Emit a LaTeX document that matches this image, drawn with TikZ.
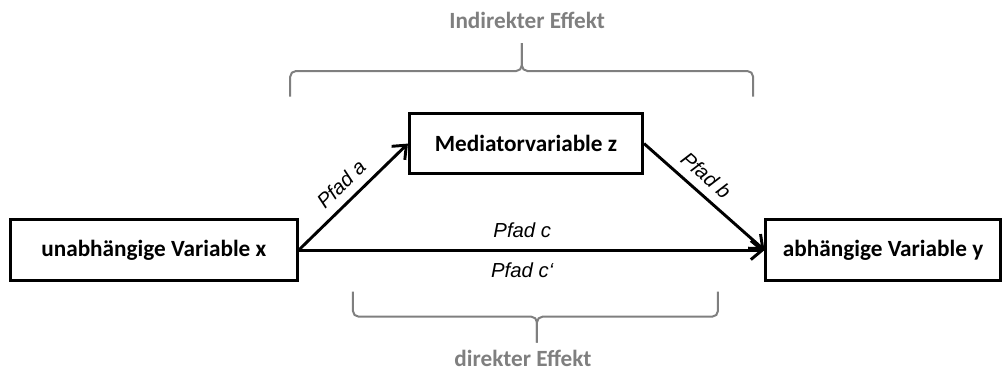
\documentclass[tikz,border=0pt]{standalone}
\usepackage{fontspec}
\setmainfont{Carlito}
\newfontfamily\arialfont{Liberation Sans}
\usetikzlibrary{arrows.meta}
\definecolor{effgray}{RGB}{127,127,127}
\tikzstyle{block} = [draw, line width=2.2pt, fill=white, rectangle, minimum height=1.6cm, align=center, font={\fontsize{17.5pt}{21pt}\selectfont\bfseries}]
\tikzstyle{pfad} = [inner sep=6.5pt, font={\arialfont\itshape\fontsize{15.3pt}{18pt}\selectfont}]
\tikzstyle{effbrace} = [draw=effgray, line width=1.5pt, rounded corners=0.15cm]
\tikzstyle{efftext} = [text=effgray, inner sep=1pt, font={\fontsize{17.5pt}{21pt}\selectfont\bfseries}]

\begin{document}
\begin{tikzpicture}[auto, >={Straight Barb[length=3mm, width=5mm]}]
    \useasboundingbox (-4.07,-3.23) rectangle (22.50,6.62);
    \node [block, minimum width=7.59cm] (uv) at (0,0) {unabhängige Variable x};
    \node [block, minimum width=6.2cm, right of=uv, node distance=19.3cm] (av) {abhängige Variable y};
    \node [block, minimum width=6.17cm] (med) at (9.85,2.82) {Mediatorvariable z};
    \draw [->, line width=2.2pt] (uv.east) -- node[pfad, sloped, above] {Pfad a} (med.west);
    \draw [->, line width=2.2pt] (med.east) -- node[pfad, sloped, above, pos=0.42] {Pfad b} (av.west);
    \draw [->, line width=2.2pt] (uv.east) -- node[pfad, above, pos=0.48, inner sep=8.5pt] {Pfad c} node[pfad, below, pos=0.48, inner sep=8.5pt] {Pfad c‘} (av.west);

    % Klammern
    \draw [effbrace] (3.61,4.06) -- (3.61,4.74) -- (9.74,4.74) -- (9.74,5.48);
    \draw [effbrace] (15.86,4.06) -- (15.86,4.74) -- (9.74,4.74) -- (9.74,5.48);
    \node [efftext] (indir) at (9.88,6.07) {Indirekter Effekt};
    \draw [effbrace] (5.27,-1.10) -- (5.27,-1.76) -- (10.14,-1.76) -- (10.14,-2.45);
    \draw [effbrace] (14.93,-1.10) -- (14.93,-1.76) -- (10.14,-1.76) -- (10.14,-2.45);
    \node [efftext, anchor=base] (dir) at (9.77,-3.08) {direkter Effekt};
\end{tikzpicture}
\end{document}
